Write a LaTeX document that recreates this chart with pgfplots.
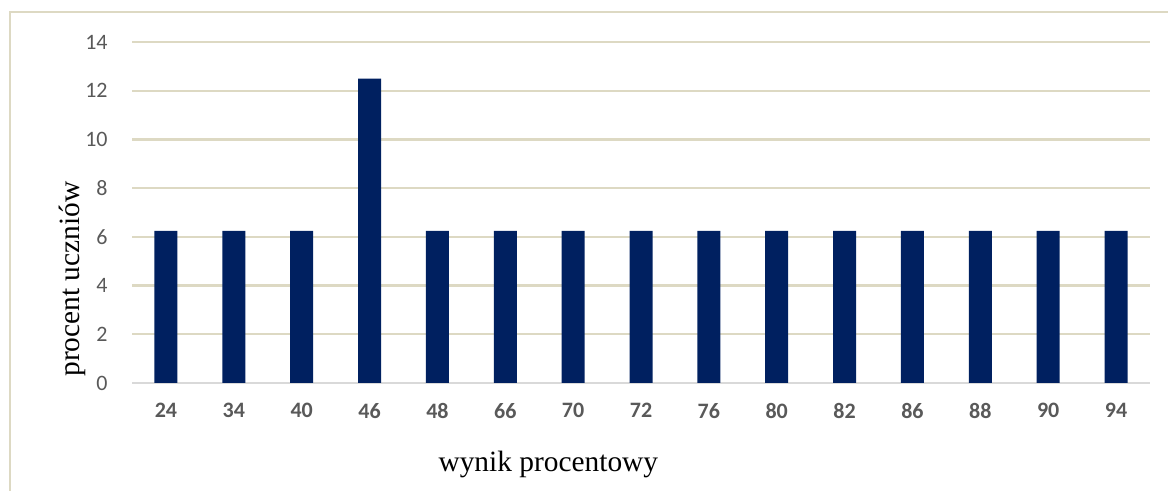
\documentclass[border=0pt]{standalone}
\usepackage{pgfplots}
\pgfplotsset{compat=1.18}
\usepackage{fontspec}
\setmainfont{Liberation Serif}
\newfontfamily\carlito{Carlito}
\definecolor{barblue}{RGB}{0,32,96}
\definecolor{gridc}{RGB}{221,217,195}
\definecolor{framec}{RGB}{221,217,195}
\definecolor{axc}{RGB}{217,217,217}
\definecolor{tickc}{RGB}{89,89,89}
\begin{document}
\begin{tikzpicture}
\path[use as bounding box] (0,0) rectangle (584bp,245.5bp);
\draw[framec, line width=1bp] (5bp,0) -- (5bp,239.5bp) -- (584bp,239.5bp);
\begin{axis}[
  at={(66bp,54bp)}, anchor=south west,
  width=509bp, height=170.5bp, scale only axis,
  xmin=-0.5, xmax=14.5, ymin=0, ymax=14,
  ytick={0,2,...,14},
  xtick={0,...,14},
  xticklabels={24,34,40,46,48,66,70,72,76,80,82,86,88,90,94},
  axis x line*=bottom, axis y line*=left,
  x axis line style={axc, line width=1bp},
  y axis line style={draw=none},
  major tick length=0pt,
  ymajorgrids, grid style={gridc, line width=1.1bp},
  /pgf/number format/assume math mode=true,
  yticklabel style={font=\carlito\fontsize{11bp}{13bp}\selectfont, text=tickc, anchor=east, inner sep=0pt, xshift=-12bp},
  xticklabel style={font=\carlito\bfseries\fontsize{11bp}{13bp}\selectfont, text=tickc, anchor=north, inner sep=0pt, yshift=-10bp},
  xlabel={wynik procentowy},
  ylabel={procent uczniów},
  label style={font=\fontsize{14.7bp}{17bp}\selectfont, text=black},
  xlabel style={at={(axis description cs:0.409,-0.24)}, anchor=center},
  ylabel style={at={(axis description cs:-0.059,0.305)}, anchor=center, rotate=0},
]
\addplot[ybar, fill=barblue, draw=none, bar width=11.5bp] coordinates {
(0,6.25) (1,6.25) (2,6.25) (3,12.5) (4,6.25) (5,6.25) (6,6.25) (7,6.25)
(8,6.25) (9,6.25) (10,6.25) (11,6.25) (12,6.25) (13,6.25) (14,6.25)
};
\end{axis}
\end{tikzpicture}
\end{document}
